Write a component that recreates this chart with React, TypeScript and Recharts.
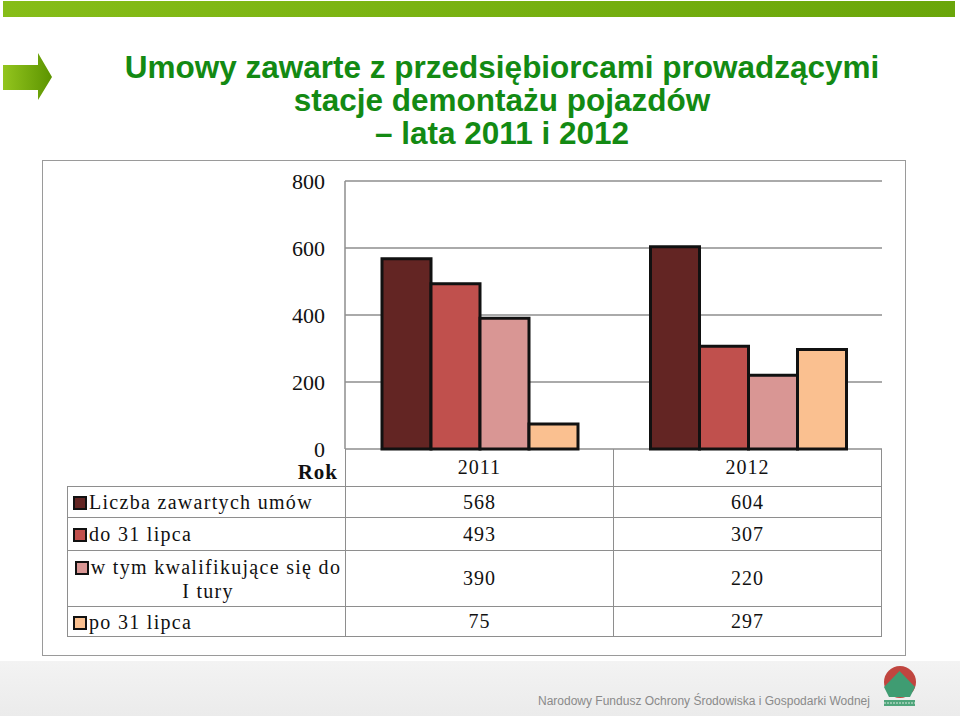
import React from "react";
import { BarChart, Bar, XAxis, YAxis, CartesianGrid } from "recharts";

const years = ["2011", "2012"];
const seriesNames = [
  "Liczba zawartych umów",
  "do 31 lipca",
  "w tym kwalifikujące się do I tury",
  "po 31 lipca",
];
const contracts = [568, 604];
const beforeJuly31 = [493, 307];
const qualifying = [390, 220];
const afterJuly31 = [75, 297];
const yTicks = [0, 200, 400, 600, 800];

const seriesColors = ["#632523", "#c0504d", "#d99694", "#fac090"];
const seriesValues = [contracts, beforeJuly31, qualifying, afterJuly31];
const seriesKeys = ["s0", "s1", "s2", "s3"];

const data = years.map((year, i) => {
  const row: Record<string, string | number> = { year };
  seriesKeys.forEach((k, s) => (row[k] = seriesValues[s][i]));
  return row;
});

const serif = '"Liberation Serif", "DejaVu Serif", serif';
const sans = '"Liberation Sans", Arial, sans-serif';
const gridColor = "#8e8e8e";

// table geometry (px, page coordinates)
const colX = [67, 345, 613, 882];
const rowY = [449, 486, 517, 550, 606, 637];

function DataTable() {
  const cells: React.ReactNode[] = [];
  const line = "1.5px solid " + gridColor;

  // header row: "Rok" + years
  cells.push(
    <div
      key="rok"
      style={{
        position: "absolute",
        left: colX[0],
        width: colX[1] - colX[0] - 7,
        top: rowY[0],
        height: rowY[1] - rowY[0],
        display: "flex",
        alignItems: "center",
        justifyContent: "flex-end",
        fontFamily: serif,
        fontWeight: 700,
        fontSize: 21,
        letterSpacing: 1,
        color: "#111",
        paddingTop: 9,
        boxSizing: "border-box",
      }}
    >
      Rok
    </div>
  );
  years.forEach((y, c) => {
    cells.push(
      <div
        key={"h" + c}
        style={{
          position: "absolute",
          left: colX[c + 1],
          width: colX[c + 2] - colX[c + 1],
          top: rowY[0],
          height: rowY[1] - rowY[0],
          borderLeft: line,
          borderRight: c === years.length - 1 ? line : undefined,
          boxSizing: "border-box",
          display: "flex",
          alignItems: "center",
          justifyContent: "center",
          fontFamily: serif,
          fontSize: 20,
          letterSpacing: 1,
          color: "#111",
        }}
      >
        {y}
      </div>
    );
  });

  seriesNames.forEach((name, r) => {
    const top = rowY[r + 1];
    const h = rowY[r + 2] - top;
    const breakAt = name.indexOf(" I ");
    const wrapped = breakAt > 0;
    const label = wrapped ? name.slice(0, breakAt) + "\n" + name.slice(breakAt + 1) : name;
    cells.push(
      <div
        key={"l" + r}
        style={{
          position: "absolute",
          left: colX[0],
          width: colX[1] - colX[0],
          top,
          height: h,
          border: line,
          borderRight: "none",
          borderBottom: r === seriesNames.length - 1 ? line : "none",
          boxSizing: "border-box",
          display: "flex",
          alignItems: "center",
          padding: "0 2px 0 5px",
          fontFamily: serif,
          fontSize: 20,
          letterSpacing: 1.3,
          color: "#111",
          lineHeight: "24px",
          whiteSpace: "pre-line",
        }}
      >
        <div style={{ textAlign: wrapped ? "center" : "left", width: "100%" }}>
          <span
            style={{
              display: "inline-block",
              width: 10,
              height: 10,
              background: seriesColors[r],
              border: "2.5px solid #111",
              marginRight: 2,
              verticalAlign: "-1px",
            }}
          />
          {label}
        </div>
      </div>
    );
    seriesValues[r].forEach((v, c) => {
      cells.push(
        <div
          key={"v" + r + c}
          style={{
            position: "absolute",
            left: colX[c + 1],
            width: colX[c + 2] - colX[c + 1],
            top,
            height: h,
            borderTop: line,
            borderLeft: line,
            borderRight: c === years.length - 1 ? line : undefined,
            borderBottom: r === seriesNames.length - 1 ? line : undefined,
            boxSizing: "border-box",
            display: "flex",
            alignItems: "center",
            justifyContent: "center",
            fontFamily: serif,
            fontSize: 20,
            letterSpacing: 1,
            color: "#111",
          }}
        >
          {v}
        </div>
      );
    });
  });
  return <>{cells}</>;
}

function Arrow() {
  return (
    <svg width={60} height={60} style={{ position: "absolute", left: 0, top: 46 }}>
      <defs>
        <linearGradient id="arr" x1="0" x2="1" y1="0" y2="0">
          <stop offset="0" stopColor="#93c51e" />
          <stop offset="1" stopColor="#5c9400" />
        </linearGradient>
      </defs>
      <polygon points="3,19 38,19 38,7 52,31 38,54 38,44 3,44" fill="url(#arr)" />
    </svg>
  );
}

function Logo() {
  return (
    <svg width={44} height={46} style={{ position: "absolute", left: 878, top: 664 }}>
      <circle cx={22} cy={18} r={16} fill="#c0453f" />
      <polygon points="21.5,7 37,23 32,33 11,33 6,23" fill="#3f9c72" />
      <rect x={6} y={36} width={31} height={6} fill="#4fa57b" />
      <line x1={6} x2={37} y1={39} y2={39} stroke="#d8eadf" strokeWidth={1} strokeDasharray="2 1" />
    </svg>
  );
}

export default function App() {
  return (
    <div
      style={{
        position: "absolute",
        left: 0,
        top: 0,
        width: 960,
        height: 716,
        background: "#fff",
        overflow: "hidden",
      }}
    >
      {/* top bar */}
      <div
        style={{
          position: "absolute",
          left: 3,
          top: 1,
          width: 952,
          height: 16,
          background: "linear-gradient(to right, #86bd18, #6aa60a)",
        }}
      />
      <Arrow />
      <div
        style={{
          position: "absolute",
          left: 102,
          width: 800,
          top: 51,
          textAlign: "center",
          fontFamily: sans,
          fontWeight: 700,
          fontSize: 31.5,
          lineHeight: "33px",
          color: "#138a13",
        }}
      >
        Umowy zawarte z przedsiębiorcami prowadzącymi
        <br />
        stacje demontażu pojazdów
        <br />– lata 2011 i 2012
      </div>

      {/* chart frame */}
      <div
        style={{
          position: "absolute",
          left: 42,
          top: 160,
          width: 864,
          height: 496,
          border: "1.5px solid #9a9a9a",
          boxSizing: "border-box",
          background: "#fff",
        }}
      />
      <div style={{ position: "absolute", left: 0, top: 0 }}>
        <BarChart
          width={960}
          height={470}
          data={data}
          margin={{ top: 181, right: 78, left: 285, bottom: 21 }}
          barCategoryGap={37}
          barGap={0}
        >
          <CartesianGrid vertical={false} stroke={gridColor} strokeWidth={1.5} />
          <XAxis dataKey="year" hide />
          <YAxis
            width={60}
            domain={[0, 800]}
            ticks={yTicks}
            tickLine={false}
            tickSize={0}
            tickMargin={20}
            axisLine={{ stroke: gridColor, strokeWidth: 1.5 }}
            tick={{ fontSize: 22, fontFamily: serif, fill: "#111" }}
          />
          {seriesKeys.map((k, s) => (
            <Bar
              key={k}
              dataKey={k}
              name={seriesNames[s]}
              fill={seriesColors[s]}
              stroke="#111"
              strokeWidth={3}
              isAnimationActive={false}
            />
          ))}
        </BarChart>
      </div>
      <DataTable />

      {/* footer */}
      <div
        style={{
          position: "absolute",
          left: 0,
          top: 661,
          width: 960,
          height: 55,
          background: "linear-gradient(to bottom, #f3f3f3, #ebebeb)",
        }}
      />
      <div
        style={{
          position: "absolute",
          left: 538,
          top: 694,
          fontFamily: sans,
          fontSize: 12,
          color: "#8a8a8a",
          whiteSpace: "nowrap",
        }}
      >
        Narodowy Fundusz Ochrony Środowiska i Gospodarki Wodnej
      </div>
      <Logo />
    </div>
  );
}
